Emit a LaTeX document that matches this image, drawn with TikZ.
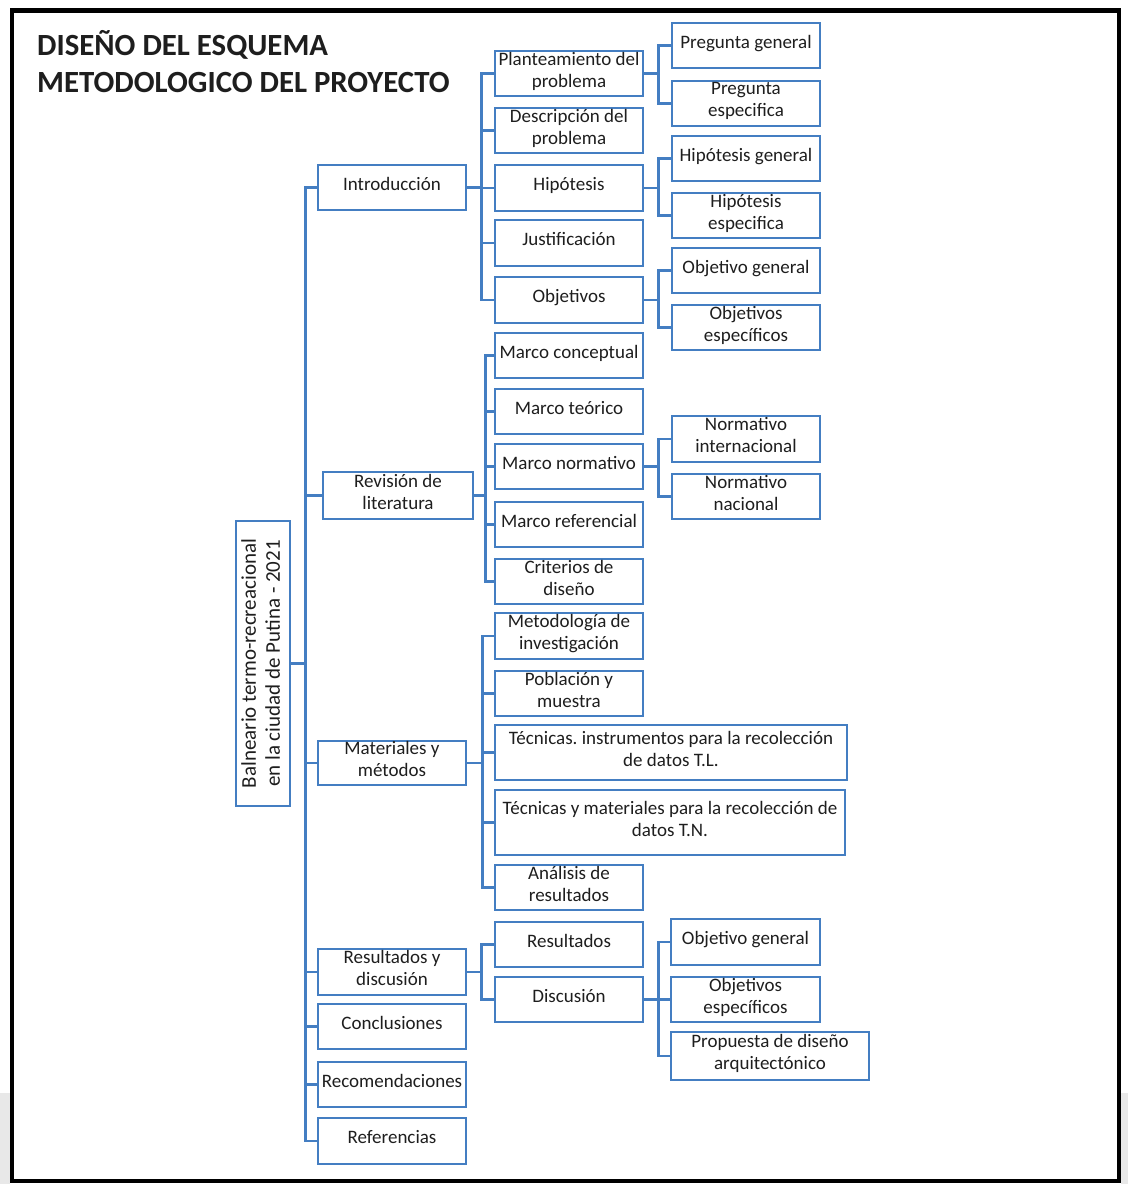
\documentclass[tikz,border=0pt]{standalone}
\usepackage{fontspec}
\setmainfont{Carlito}
\frenchspacing
\definecolor{sblue}{RGB}{68,126,194}
\definecolor{txtc}{RGB}{30,30,30}
\newcommand\bx[7][]{\node[box,minimum width={#5-#3},minimum height={#6-#4},#1] (#2) at ({(#3+#5)/2},{(#4+#6)/2}) {#7};}
\begin{document}
\begin{tikzpicture}[x=1pt,y=-1pt,
  box/.style={draw=sblue,line width=2.6pt,inner sep=0pt,align=center,text=txtc,font=\fontsize{19}{22}\selectfont,text depth=8pt},
  conn/.style={sblue,line width=2.4pt},
  ttl/.style={anchor=base west,inner sep=0pt,text=txtc,font=\bfseries\fontsize{30.8}{36}\selectfont}]
\useasboundingbox (0,0) rectangle (1128,1184);
\fill[white] (0,0) rectangle (1128,1184);
\fill[black!9] (0,1093) rectangle (10,1184);
\fill[black!9] (1121,1093) rectangle (1128,1184);
\draw[black,line width=4.5pt] (12,10.5) rectangle (1119,1181);
% title
\node[ttl] (t1) at (37,55) {DISEÑO DEL ESQUEMA};
\node[ttl] (t2) at (37,92) {METODOLOGICO DEL PROYECTO};
% root
\bx[text depth=0pt]{root}{236}{521}{290}{806}{\rotatebox{90}{\fontsize{21}{24}\selectfont\begin{tabular}{@{}c@{}}Balneario termo-recreacional\\en la ciudad de Putina - 2021\end{tabular}}}
% level 1
\bx{intro}{318}{165}{466}{210}{Introducción}
\bx{rev}{323}{472}{473}{519}{Revisión de\\literatura}
\bx{mat}{318}{741}{466}{785}{Materiales y\\métodos}
\bx{resd}{318}{949}{466}{995}{Resultados y\\discusión}
\bx{concl}{318}{1004}{466}{1049}{Conclusiones}
\bx{recom}{318}{1062}{466}{1107}{Recomendaciones}
\bx{refs}{318}{1118}{466}{1164}{Referencias}
% level 2 - introduccion
\bx{plan}{495}{51}{643}{96}{Planteamiento del\\problema}
\bx{desc}{495}{108}{643}{153}{Descripción del\\problema}
\bx{hip}{495}{165}{643}{211}{Hipótesis}
\bx{just}{495}{220}{643}{266}{Justificación}
\bx{obj}{495}{277}{643}{323}{Objetivos}
% level 3 - introduccion
\bx{pg}{672}{23}{820}{68}{Pregunta general}
\bx{pe}{672}{81}{820}{126}{Pregunta\\especifica}
\bx{hg}{672}{136}{820}{181}{Hipótesis general}
\bx{he}{672}{193}{820}{238}{Hipótesis\\especifica}
\bx{og}{672}{248}{820}{293}{Objetivo general}
\bx{oe}{672}{305}{820}{350}{Objetivos\\específicos}
% level 2 - revision
\bx{mc}{495}{333}{643}{378}{Marco conceptual}
\bx{mt}{495}{389}{643}{434}{Marco teórico}
\bx{mn}{495}{444}{643}{489}{Marco normativo}
\bx{mr}{495}{502}{643}{547}{Marco referencial}
\bx{cd}{495}{559}{643}{604}{Criterios de\\diseño}
\bx{ni}{672}{416}{820}{462}{Normativo\\internacional}
\bx{nn}{672}{474}{820}{519}{Normativo\\nacional}
% level 2 - materiales
\bx{meto}{495}{613}{643}{659}{Metodología de\\investigación}
\bx{pob}{495}{671}{643}{716}{Población y\\muestra}
\bx{tl}{495}{725}{847}{780}{Técnicas. instrumentos para la recolección\\de datos T.L.}
\bx{tn}{495}{790}{845}{855}{Técnicas y materiales para la recolección de\\datos T.N.}
\bx{ana}{495}{865}{643}{910}{Análisis de\\resultados}
% level 2 - resultados
\bx{res}{495}{922}{643}{967}{Resultados}
\bx{dis}{495}{977}{643}{1022}{Discusión}
\bx{og2}{671}{919}{820}{965}{Objetivo general}
\bx{oe2}{671}{977}{820}{1022}{Objetivos\\específicos}
\bx{prop}{671}{1032}{869}{1080}{Propuesta de diseño\\arquitectónico}
% connectors
\foreach \n in {intro,rev,mat,resd,concl,recom,refs} \draw[conn] (root.east) -- ++(14,0) |- (\n.west);
\foreach \n in {plan,desc,hip,just,obj} \draw[conn] (intro.east) -- ++(14,0) |- (\n.west);
\foreach \n in {mc,mt,mn,mr,cd} \draw[conn] (rev.east) -- ++(11,0) |- (\n.west);
\foreach \n in {meto,pob,tl,tn,ana} \draw[conn] (mat.east) -- ++(15,0) |- (\n.west);
\foreach \n in {res,dis} \draw[conn] (resd.east) -- ++(14,0) |- (\n.west);
\foreach \n in {pg,pe} \draw[conn] (plan.east) -- ++(14,0) |- (\n.west);
\foreach \n in {hg,he} \draw[conn] (hip.east) -- ++(14,0) |- (\n.west);
\foreach \n in {og,oe} \draw[conn] (obj.east) -- ++(14,0) |- (\n.west);
\foreach \n in {ni,nn} \draw[conn] (mn.east) -- ++(14,0) |- (\n.west);
\foreach \n in {og2,oe2,prop} \draw[conn] (dis.east) -- ++(14,0) |- (\n.west);
\end{tikzpicture}
\end{document}
